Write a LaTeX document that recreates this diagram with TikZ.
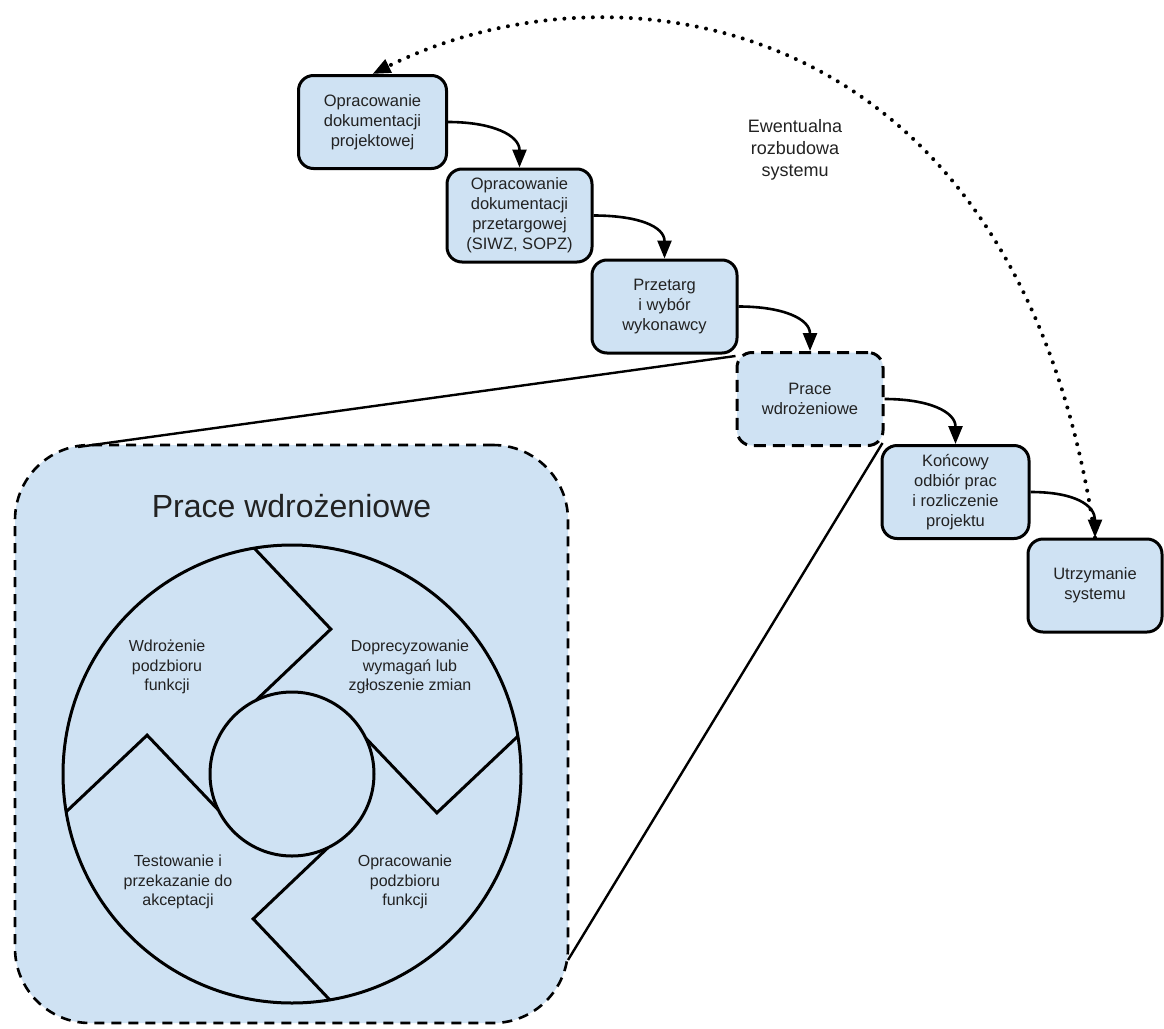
\documentclass[tikz,border=0pt]{standalone}
\usepackage{fontspec}
\setmainfont{Liberation Sans}
\usetikzlibrary{arrows.meta,calc}
\definecolor{boxfill}{HTML}{CFE2F3}
\definecolor{txt}{HTML}{222222}
\begin{document}
\begin{tikzpicture}[x=1pt,y=-1pt,
  stage/.style={draw=black, line width=3pt, fill=boxfill, rounded corners=15pt,
    minimum height=93pt, minimum width=146pt, inner sep=0pt, align=center,
    text=txt, font=\fontsize{16.5}{20}\selectfont},
  stagedash/.style={stage, dash pattern=on 12pt off 7pt},
  flow/.style={line width=2.6pt, -{Triangle[length=18pt,width=14pt]}},
  dotline/.style={line width=4pt, line cap=round, dash pattern=on 0pt off 9.5pt,
    -{Triangle[length=18pt,width=14pt]}},
  zoomline/.style={line width=2.4pt},
  bigbox/.style={draw=black, line width=2.6pt, dash pattern=on 10pt off 7pt,
    fill=boxfill, rounded corners=75pt, minimum width=553pt, minimum height=578pt, inner sep=0pt},
  ring/.style={draw=black, line width=3pt, circle, inner sep=0pt},
  chev/.style={line width=3pt, line join=miter},
  lbl/.style={text=txt, align=center, font=\fontsize{16}{19.5}\selectfont},
]
\useasboundingbox (0,0) rectangle (1164,1028);

% big detail box
\node[bigbox] (big) at (291.5,734) {};
\node[text=txt, font=\fontsize{32}{38}\selectfont, anchor=base] (title) at (291.5,517) {Prace wdrożeniowe};

% circles
\coordinate (C) at (292,774);
\node[ring, minimum size=458pt] (outerc) at (C) {};
\node[ring, minimum size=164pt] (innerc) at (C) {};
\foreach \t in {90,0,180,270}{
  \draw[chev] ($(C)+({-(\t+9.5)}:229)$) -- ($(C)+({-(\t-15)}:150)$) -- ($(C)+({-(\t+26)}:82)$);
}
\node[lbl] (l1) at (167,667) {Wdrożenie\\podzbioru\\funkcji};
\node[lbl] (l2) at (410,667) {Doprecyzowanie\\wymagań lub\\zgłoszenie zmian};
\node[lbl] (l3) at (178,882) {Testowanie i\\przekazanie do\\akceptacji};
\node[lbl] (l4) at (405,882) {Opracowanie\\podzbioru\\funkcji};

% stage boxes
\node[stage, minimum width=148pt] (b1) at (372.5,122) {Opracowanie\\dokumentacji\\projektowej};
\node[stage, minimum width=145pt] (b2) at (519.5,215.5) {Opracowanie\\dokumentacji\\przetargowej\\(SIWZ, SOPZ)};
\node[stage, minimum width=145pt] (b3) at (664.5,306.5) {Przetarg\\i wybór\\wykonawcy};
\node[stagedash] (b4) at (810,399) {Prace\\wdrożeniowe};
\node[stage, minimum width=147pt] (b5) at (955.5,492) {Końcowy\\odbiór prac\\i rozliczenie\\projektu};
\node[stage, minimum width=134pt] (b6) at (1095,585.5) {Utrzymanie\\systemu};

% zoom lines
\coordinate (zt) at (78,447);
\coordinate (zb) at (568,960);
\draw[zoomline] ($(b4.north west)+(0,5)$) -- (zt);
\draw[zoomline] ($(b4.south east)+(-2,-4)$) -- (zb);

% flow arrows
\draw[flow] (b1.east) .. controls +(45,0) and +(0,-32) .. (b2.north);
\draw[flow] (b2.east) .. controls +(45,0) and +(0,-32) .. (b3.north);
\draw[flow] (b3.east) .. controls +(45,0) and +(0,-32) .. (b4.north);
\draw[flow] (b4.east) .. controls +(45,0) and +(0,-32) .. (b5.north);
\draw[flow] (b5.east) .. controls +(45,0) and +(0,-32) .. (b6.north);

% feedback
\draw[dotline] (b6.north) .. controls (1018,4) and (614,-46) .. (b1.north);
\node[text=txt, align=center, font=\fontsize{18}{22}\selectfont] (ew) at (795,150) {Ewentualna\\rozbudowa\\systemu};
\end{tikzpicture}
\end{document}
